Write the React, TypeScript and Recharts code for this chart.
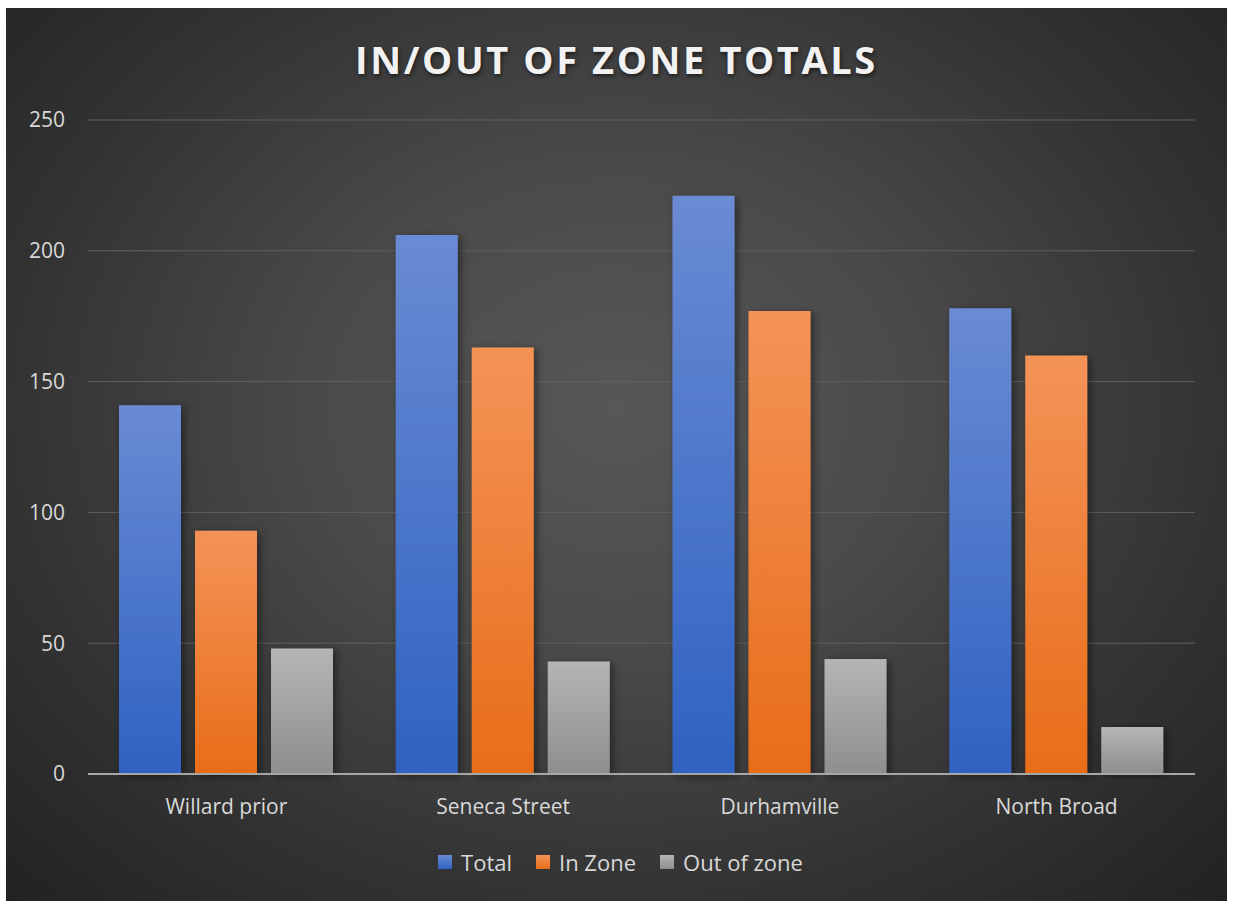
import React from "react";
import { BarChart, Bar, XAxis, YAxis, CartesianGrid, Legend } from "recharts";

const categories = ["Willard prior", "Seneca Street", "Durhamville", "North Broad"];
const totalValues = [141, 206, 221, 178];
const inZoneValues = [93, 163, 177, 160];
const outOfZoneValues = [48, 43, 44, 18];
const yTicks = [0, 50, 100, 150, 200, 250];
const seriesNames = ["Total", "In Zone", "Out of zone"];

const data = categories.map((name, i) => ({
  name,
  total: totalValues[i],
  inZone: inZoneValues[i],
  outOfZone: outOfZoneValues[i],
}));

const FONT = "'Open Sans', 'Noto Sans', sans-serif";
const W = 1221;
const H = 893;

const legendItems = [
  { label: seriesNames[0], css: "linear-gradient(#6a8bd3,#2f62c2)" },
  { label: seriesNames[1], css: "linear-gradient(#f49358,#e86d18)" },
  { label: seriesNames[2], css: "linear-gradient(#b5b5b5,#8e8e8e)" },
];

const LegendContent = () => (
  <div style={{ display: "flex", justifyContent: "center", alignItems: "center", gap: 24, paddingLeft: 40, fontFamily: FONT, fontSize: 22, color: "#d9d9d9", lineHeight: "30px" }}>
    {legendItems.map((it) => (
      <div key={it.label} style={{ display: "flex", alignItems: "center" }}>
        <span style={{ display: "inline-block", width: 14, height: 14, background: it.css, marginRight: 9 }} />
        <span>{it.label}</span>
      </div>
    ))}
  </div>
);

export default function App() {
  return (
    <div
      style={{
        position: "absolute",
        left: 6,
        top: 8,
        width: W,
        height: H,
        background: "radial-gradient(ellipse at 50% 45%, #575757 0%, #4a4a4a 35%, #333333 70%, #222222 100%)",
        overflow: "hidden",
      }}
    >
      <div
        style={{
          position: "absolute",
          left: 0,
          right: 0,
          top: 25,
          textAlign: "center",
          fontFamily: FONT,
          fontWeight: 700,
          fontSize: 38,
          letterSpacing: 2.6,
          color: "#f2f2f2",
          textShadow: "1px 2px 4px rgba(0,0,0,0.6)",
        }}
      >
        IN/OUT OF ZONE TOTALS
      </div>
      <BarChart
        width={W}
        height={H}
        data={data}
        margin={{ top: 112, right: 32, left: 0, bottom: 0 }}
        barCategoryGap={31}
        barGap={14}
      >
        <defs>
          <linearGradient id="gTotal" x1="0" y1="0" x2="0" y2="1">
            <stop offset="0%" stopColor="#6a8bd3" />
            <stop offset="100%" stopColor="#2f62c2" />
          </linearGradient>
          <linearGradient id="gIn" x1="0" y1="0" x2="0" y2="1">
            <stop offset="0%" stopColor="#f49358" />
            <stop offset="100%" stopColor="#e86d18" />
          </linearGradient>
          <linearGradient id="gOut" x1="0" y1="0" x2="0" y2="1">
            <stop offset="0%" stopColor="#b5b5b5" />
            <stop offset="100%" stopColor="#8e8e8e" />
          </linearGradient>
          <filter id="shadow" x="-30%" y="-10%" width="160%" height="120%">
            <feDropShadow dx="3" dy="2" stdDeviation="4" floodColor="#000" floodOpacity="0.45" />
          </filter>
        </defs>
        <CartesianGrid vertical={false} stroke="#606060" strokeWidth={1} />
        <XAxis
          dataKey="name"
          height={97}
          tickLine={false}
          tickSize={0}
          tickMargin={25}
          axisLine={{ stroke: "#a6a6a6", strokeWidth: 2 }}
          tick={{ fill: "#d9d9d9", fontSize: 21, fontFamily: FONT }}
        />
        <YAxis
          width={82}
          domain={[0, 250]}
          ticks={yTicks}
          axisLine={false}
          tickLine={false}
          tickSize={0}
          tickMargin={23}
          tick={{ fill: "#d9d9d9", fontSize: 21, fontFamily: FONT }}
        />
        <Legend
          verticalAlign="bottom"
          content={LegendContent}
          wrapperStyle={{ bottom: 24 }}
        />
        <Bar dataKey="total" name={seriesNames[0]} fill="url(#gTotal)" filter="url(#shadow)" isAnimationActive={false} />
        <Bar dataKey="inZone" name={seriesNames[1]} fill="url(#gIn)" filter="url(#shadow)" isAnimationActive={false} />
        <Bar dataKey="outOfZone" name={seriesNames[2]} fill="url(#gOut)" filter="url(#shadow)" isAnimationActive={false} />
      </BarChart>
    </div>
  );
}
